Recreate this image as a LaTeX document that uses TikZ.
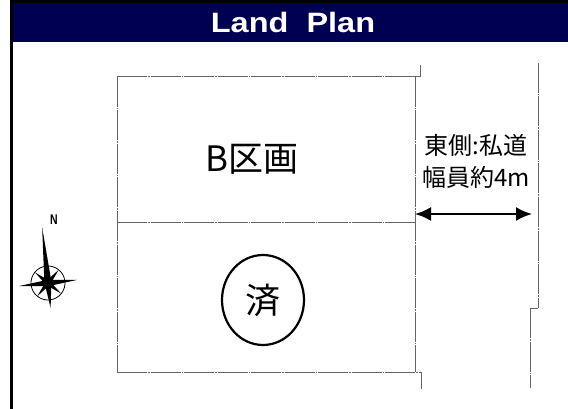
\documentclass[tikz,border=0pt]{standalone}
\usepackage{fontspec}
\usepackage{graphicx}
\newfontfamily\jp{Noto Sans CJK JP}
\newfontfamily\titlefont{Liberation Sans}
\usetikzlibrary{arrows.meta,shapes.geometric}
\definecolor{navy}{RGB}{0,0,82}
\definecolor{lotgray}{RGB}{100,100,100}
\begin{document}
\begin{tikzpicture}[x=1pt,y=-1pt,
  lot/.style={draw=lotgray,line width=1pt,dash pattern=on 30pt off 1pt on 1.5pt off 1pt},
  jptext/.style={font=\jp\fontsize{#1}{#1}\selectfont,inner sep=0pt},
  dimarrow/.style={line width=2.2pt,{Latex[length=16pt,width=14pt]}-{Latex[length=16pt,width=14pt]}},
  stamp/.style={draw,line width=2.2pt,ellipse,minimum width=82pt,minimum height=90pt,inner sep=0pt}]
\useasboundingbox (0,0) rectangle (568,409);
\fill[white] (0,0) rectangle (568,409);
% frame and title bar
\fill[black] (10,0) rectangle (13,409);
\fill[black] (10,0) rectangle (568,3);
\fill[navy] (13,3) rectangle (568,42);
\node[text=white,inner sep=0pt,font=\titlefont\bfseries\fontsize{28}{28}\selectfont] (title) at (293,22) {\scalebox{1.16}[1]{Land\ \ Plan}};
% lot corners
\coordinate (tl) at (117,77);
\coordinate (tr) at (415,77);
\coordinate (ml) at (117,222);
\coordinate (mr) at (415,222);
\coordinate (bl) at (117,372);
\coordinate (br) at (415,372);
\coordinate (trk) at (420,77);
\coordinate (trt) at (420,65);
\coordinate (brk) at (421,372);
\coordinate (brt) at (421,389);
\draw[lot] (tl) -- (tr);
\draw[lot] (tr) -- (br);
\draw[lot] (tl) -- (bl);
\draw[lot] (bl) -- (brk);
\draw[lot] (ml) -- (mr);
\draw[draw=lotgray,line width=1pt] (tr) -- (trk) -- (trt);
\draw[draw=lotgray,line width=1pt] (brk) -- (brt);
% road east boundary
\coordinate (r1) at (538,63);
\coordinate (r2) at (538,308);
\coordinate (r3) at (530,308);
\coordinate (r4) at (530,388);
\draw[lot] (r1) -- (r2);
\draw[draw=lotgray,line width=1pt] (r2) -- (r3);
\draw[lot] (r3) -- (r4);
% road width arrow
\coordinate (a1) at (415,214);
\coordinate (a2) at (532,214);
\draw[dimarrow] (a1) -- (a2);
% texts
\node[jptext=24] (road1) at (476,145) {東側:私道};
\node[jptext=24] (road2) at (476,177) {幅員約4m};
\node[jptext=35] (lotB) at (252,159) {B区画};
\node[stamp,font=\jp\fontsize{35}{35}\selectfont] (done) at (263,300) {済};
% compass
\node[inner sep=0pt,font=\titlefont\bfseries\fontsize{14}{14}\selectfont] (north) at (54,220) {\scalebox{0.75}[1]{N}};
\begin{scope}[shift={(48,283)},yscale=-1,rotate=-6]
  \draw[line width=0.8pt] (0,0) circle (17);
  \foreach \a/\L/\w in {90/56/3.6,270/25/3.4,0/29/3.2,180/29/3.2,45/17/2.6,135/17/2.6,225/17/2.6,315/17/2.6}
    \fill (\a+90:\w) -- (\a:\L) -- (\a-90:\w) -- cycle;
\end{scope}
\end{tikzpicture}
\end{document}
